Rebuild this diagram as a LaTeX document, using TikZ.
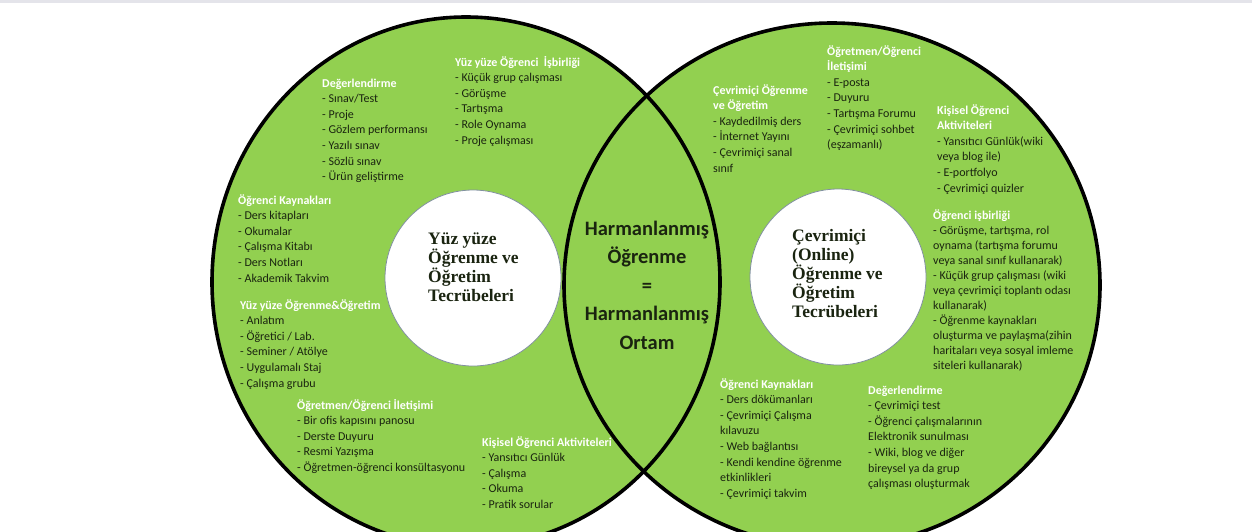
\documentclass[tikz,border=0pt]{standalone}
\usepackage{fontspec}
\setmainfont{Carlito}
\newfontfamily\serifnegra{Liberation Serif}
\definecolor{verde}{RGB}{146,208,80}
\definecolor{oscuro}{RGB}{26,36,16}
\definecolor{gris}{RGB}{228,228,234}
\definecolor{bordeazul}{RGB}{130,145,160}
\newcommand{\tit}[1]{\textcolor{white}{\textbf{#1}}}
\begin{document}
\begin{tikzpicture}[x=1pt,y=-1pt,
  borde/.style={line width=3.6pt, black},
  blanco/.style={circle, fill=white, draw=bordeazul, line width=0.8pt, minimum size=176pt, inner sep=0pt},
  lista/.style={anchor=base west, align=left, inner sep=0pt, text=oscuro, font=\fontsize{12}{15.6}\selectfont},
  interior/.style={anchor=base west, align=left, inner sep=0pt, text=oscuro, font=\serifnegra\bfseries\fontsize{17.5}{19}\selectfont}]
% Fondo y recorte
\fill[white] (0,0) rectangle (1252,531);
\fill[gris] (0,0) rectangle (1252,3);
\clip (0,0) rectangle (1252,531);

% Los dos círculos grandes
\fill[verde] (466,282) ellipse [x radius=254, y radius=265];
\fill[verde] (832,285) ellipse [x radius=268, y radius=262];
\draw[borde] (466,282) ellipse [x radius=254, y radius=265];
\draw[borde] (832,285) ellipse [x radius=268, y radius=262];

% Círculos blancos interiores
\node[blanco] (cizq) at (473,278) {};
\node[blanco] (cder) at (838,277) {};
% (el ancla base es la última línea)
\node[interior] (tizq) at (428,301) {Yüz yüze\\Öğrenme ve\\Öğretim\\Tecrübeleri};
\node[interior] (tder) at (792,317) {Çevrimiçi\\(Online)\\Öğrenme ve\\Öğretim\\Tecrübeleri};

% Texto del centro
\node[anchor=base, align=center, inner sep=0pt, text=oscuro, font=\bfseries\fontsize{20.5}{28.5}\selectfont] (centro) at (647,349)
  {Harmanlanmış\\Öğrenme\\=\\Harmanlanmış\\Ortam};

% Lado izquierdo
\node[lista] (degizq) at (322,180.6) {\tit{Değerlendirme}\\- Sınav/Test\\- Proje\\- Gözlem performansı\\- Yazılı sınav\\- Sözlü sınav\\- Ürün geliştirme};
\node[lista] (isbizq) at (455,144) {\tit{Yüz yüze Öğrenci\ \ İşbirliği}\\- Küçük grup çalışması\\- Görüşme\\- Tartışma\\- Role Oynama\\- Proje çalışması};
\node[lista] (kayizq) at (238,282) {\tit{Öğrenci Kaynakları}\\- Ders kitapları\\- Okumalar\\- Çalışma Kitabı\\- Ders Notları\\- Akademik Takvim};
\node[lista] (yuzizq) at (240,387) {\tit{Yüz yüze Öğrenme\&Öğretim}\\- Anlatım\\- Öğretici / Lab.\\- Seminer / Atölye\\- Uygulamalı Staj\\- Çalışma grubu};
\node[lista] (iletizq) at (297,471.4) {\tit{Öğretmen/Öğrenci İletişimi}\\- Bir ofis kapısını panosu\\- Derste Duyuru\\- Resmi Yazışma\\- Öğretmen-öğrenci konsültasyonu};
\node[lista] (kisizq) at (482,508.4) {\tit{Kişisel Öğrenci Aktiviteleri}\\- Yansıtıcı Günlük\\- Çalışma\\- Okuma\\- Pratik sorular};

% Lado derecho
\node[lista] (cevder) at (713,172) {\tit{Çevrimiçi Öğrenme}\\\tit{ve Öğretim}\\- Kaydedilmiş ders\\- İnternet Yayını\\- Çevrimiçi sanal\\sınıf};
\node[lista] (iletder) at (827,148.6) {\tit{Öğretmen/Öğrenci}\\\tit{İletişimi}\\- E-posta\\- Duyuru\\- Tartışma Forumu\\- Çevrimiçi sohbet\\(eşzamanlı)};
\node[lista] (kisder) at (937,192) {\tit{Kişisel Öğrenci}\\\tit{Aktiviteleri}\\- Yansıtıcı Günlük(wiki\\veya blog ile)\\- E-portfolyo\\- Çevrimiçi quizler};
\node[lista, font=\fontsize{12}{15}\selectfont] (isbder) at (933,369) {\tit{Öğrenci işbirliği}\\- Görüşme, tartışma, rol\\oynama (tartışma forumu\\veya sanal sınıf kullanarak)\\- Küçük grup çalışması (wiki\\veya çevrimiçi toplantı odası\\kullanarak)\\- Öğrenme kaynakları\\oluşturma ve paylaşma(zihin\\haritaları veya sosyal imleme\\siteleri kullanarak)};
\node[lista] (kayder) at (720,497.2) {\tit{Öğrenci Kaynakları}\\- Ders dökümanları\\- Çevrimiçi Çalışma\\kılavuzu\\- Web bağlantısı\\- Kendi kendine öğrenme\\etkinlikleri\\- Çevrimiçi takvim};
\node[lista] (degder) at (868,487.6) {\tit{Değerlendirme}\\- Çevrimiçi test\\- Öğrenci çalışmalarının\\Elektronik sunulması\\- Wiki, blog ve diğer\\bireysel ya da grup\\çalışması oluşturmak};
\end{tikzpicture}
\end{document}
